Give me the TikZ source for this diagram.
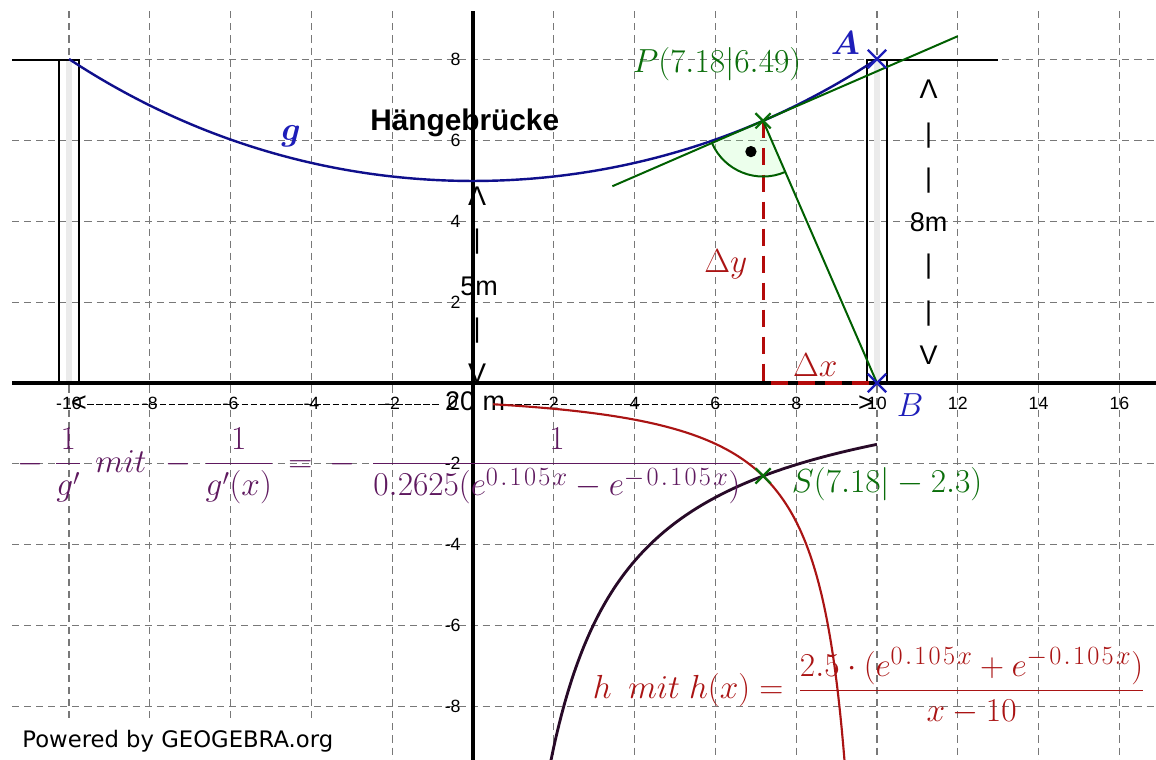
\RequirePackage{fix-cm}
\documentclass[tikz,border=0pt]{standalone}
\usepackage{amsmath}
\usepackage{fontspec}
\newfontfamily\arialf{Liberation Sans}
\newfontfamily\verdf{DejaVu Sans}
\usetikzlibrary{shapes.misc}
\newcommand\expo[1]{^{\hbox{\fontsize{18.5}{20}\selectfont$#1$}}}
\newcommand\kk{\kern1.6pt}
\definecolor{gridc}{RGB}{120,120,120}
\definecolor{gblue}{RGB}{15,15,140}
\definecolor{lblue}{RGB}{30,30,185}
\definecolor{gg}{RGB}{0,95,0}
\definecolor{lgreen}{RGB}{10,110,10}
\definecolor{hred}{RGB}{170,20,20}
\definecolor{dred}{RGB}{180,10,10}
\definecolor{ppl}{RGB}{95,25,95}
\definecolor{blk}{RGB}{40,10,40}
\begin{document}
\begin{tikzpicture}[x=1cm,y=1cm,
  gridline/.style={draw=gridc, line width=0.9pt, dash pattern=on 5pt off 3.5pt},
  axisline/.style={line width=2.6pt, black},
  pillarline/.style={line width=1.8pt, black},
  ticklab/.style={font=\fontsize{12.5}{14}\selectfont\arialf, text=black, inner sep=0pt},
  dimtext/.style={font=\fontsize{19}{22}\selectfont\arialf, inner sep=0pt},
  mathlab/.style={font=\fontsize{23.5}{28}\selectfont, inner sep=0pt},
  xmark/.style={cross out, draw, line width=1.6pt, minimum size=0.32cm, inner sep=0pt},
]
\useasboundingbox (-11.708,-9.332) rectangle (16.906,9.480);
\fill[white] (-11.708,-9.332) rectangle (16.906,9.480);
% grid
\foreach \y in {-8,-6,-4,-2,2,4,6,8} \draw[gridline] (-11.41,\y) -- (16.906,\y);
\foreach \x in {-10,-8,-6,-4,-2,2,4,6,8,10,12,14,16} \draw[gridline] (\x,9.2) -- (\x,-9.332);
\fill[white] (-11.41,-9.332) rectangle (-3.2,-8.4);
% pillars and deck
\foreach \c in {-10,10} {
  \draw[gray!16, line width=4pt] (\c,0) -- (\c,8);
  \draw[pillarline] (\c-0.25,0) rectangle (\c+0.25,8);
}
\draw[pillarline] (-11.41,8) -- (-9.75,8);
\draw[pillarline] (9.75,8) -- (13,8);
% axes
\draw[axisline] (-11.41,0) -- (16.906,0);
\draw[axisline] (0,9.2) -- (0,-9.332);
% tick labels
\foreach \x in {-10,-8,-6,-4,-2,2,4,6,8,10,12,14,16} \node[ticklab] (tx\x) at (\x,-0.5) {\x};
\foreach \y in {-8,-6,-4,-2,2,4,6,8} \node[ticklab, anchor=east] (ty\y) at (-0.3,\y) {\y};
\node[ticklab] (t0) at (-0.5,-0.48) {0};
% 20 m dimension
\node[dimtext] (d20) at (0.05,-0.45) {20 m};
\node[dimtext] (dl) at (-9.75,-0.5) {<};
\node[dimtext] (dr) at (9.73,-0.5) {>};
\draw[black, line width=1.1pt, dash pattern=on 4.6pt off 1.8pt] (-9.55,-0.53) -- (-0.8,-0.53);
\draw[black, line width=1.1pt, dash pattern=on 4.6pt off 1.8pt] (0.82,-0.53) -- (9.55,-0.53);
% 5m column
\node[dimtext] (c5a) at (0.1,4.63) {Λ};
\node[dimtext] (c5b) at (0.1,3.49) {|};
\node[dimtext] (c5c) at (0.15,2.39) {5m};
\node[dimtext] (c5d) at (0.1,1.29) {|};
\node[dimtext] (c5e) at (0.1,0.25) {V};
% 8m column
\node[dimtext] (c8a) at (11.28,7.28) {Λ};
\node[dimtext] (c8b) at (11.28,6.12) {|};
\node[dimtext] (c8c) at (11.28,5.02) {|};
\node[dimtext] (c8d) at (11.28,3.97) {8m};
\node[dimtext] (c8e) at (11.28,2.87) {|};
\node[dimtext] (c8f) at (11.28,1.73) {|};
\node[dimtext] (c8g) at (11.28,0.68) {V};
% curves h and -1/g'
\begin{scope}
\clip (-11.41,-9.332) rectangle (16.906,9.2);
\draw[hred, line width=1.5pt] plot[domain=0.5:9.25, samples=150, smooth] (\x,{2.5*(exp(0.105*\x)+exp(-0.105*\x))/(\x-10)});
\draw[blk, line width=2pt] plot[domain=1.8:10, samples=150, smooth] (\x,{-1/(0.2625*(exp(0.105*\x)-exp(-0.105*\x)))});
\end{scope}
% cable g
\draw[gblue, line width=1.7pt] plot[domain=-10:10, samples=120, smooth] (\x,{2.5*(exp(0.105*\x)+exp(-0.105*\x))});
% key points
\coordinate (P) at (7.18,6.49);
\coordinate (Pf) at (7.18,0);
\coordinate (B) at (10,0);
\coordinate (A) at (10,8.02);
\coordinate (S) at (7.18,-2.3);
\coordinate (T1) at (3.45,4.87);
\coordinate (T2) at (12,8.584);
% right angle sector
\fill[green!40!white, opacity=0.18] (P) -- ++(203.48:1.38) arc[start angle=203.48, end angle=293.48, radius=1.38] -- cycle;
% delta lines
\draw[dred, line width=2.2pt, dash pattern=on 12pt off 7pt] (P) -- (Pf) -- (B);
% tangent and normal
\draw[gg, line width=1.4pt] (T1) -- (T2);
\draw[gg, line width=1.4pt] (P) -- (B);
\draw[gg, line width=1.4pt] (P) ++(203.48:1.38) arc[start angle=203.48, end angle=293.48, radius=1.38];
\fill[black] (P) ++(248.5:0.82) circle (0.14);
% marks
\node[xmark, draw=lgreen] (mP) at (P) {};
\node[xmark, draw=lgreen] (mS) at (S) {};
\node[xmark, draw=lblue, minimum size=0.4cm] (mA) at (A) {};
\node[xmark, draw=lblue, minimum size=0.4cm] (mB) at (B) {};
% labels
\node[mathlab, text=lgreen] (lP) at (6.04,7.88) {$P(7.18|6.49)$};
\node[mathlab, text=lgreen] (lS) at (10.25,-2.5) {$S(7.18|-2.3)$};
\node[mathlab, text=lblue, anchor=base] (lA) at (9.22,8.12) {$\boldsymbol{A}$};
\node[mathlab, text=lblue, anchor=base] (lB) at (10.82,-0.82) {$B$};
\node[mathlab, text=lblue, anchor=base] (lg) at (-4.5,5.99) {$\boldsymbol{g}$};
\node[mathlab, text=hred, anchor=base] (ldy) at (6.26,2.73) {$\Delta y$};
\node[mathlab, text=hred, anchor=base] (ldx) at (8.47,0.15) {$\Delta x$};
\node[font=\fontsize{21}{24}\selectfont\arialf\bfseries, anchor=base west, inner sep=0pt] (title) at (-2.55,6.25) {Hängebrücke};
\node[mathlab, text=ppl, anchor=base west] (f1) at (-11.28,-2.2065) {$\displaystyle -\mkern6mu\frac{1}{g'}\mkern7mu mit\mkern6mu-\mkern3mu\frac{1}{g'(x)}\mkern3mu=\mkern4mu-\mkern9mu\frac{1}{0.2625(e\expo{0\kk.\kk1\kk0\kk5\kk x}-e\expo{-\kk0\kk.\kk1\kk0\kk5\kk x})}$};
\node[mathlab, text=hred, anchor=base west] (f2) at (2.96,-7.82) {$\displaystyle h\mkern9mu mit\mkern5mu h(x)=\mkern3mu\frac{2.5\cdot(e\expo{0\kk.\kk1\kk0\kk5\kk x}+e\expo{-\kk0\kk.\kk1\kk0\kk5\kk x})}{x-10}$};
\node[font=\fontsize{16}{18}\selectfont\verdf, anchor=base west, inner sep=0pt] (pow) at (-11.16,-9.03) {Powered by GEOGEBRA.org};
\end{tikzpicture}
\end{document}
